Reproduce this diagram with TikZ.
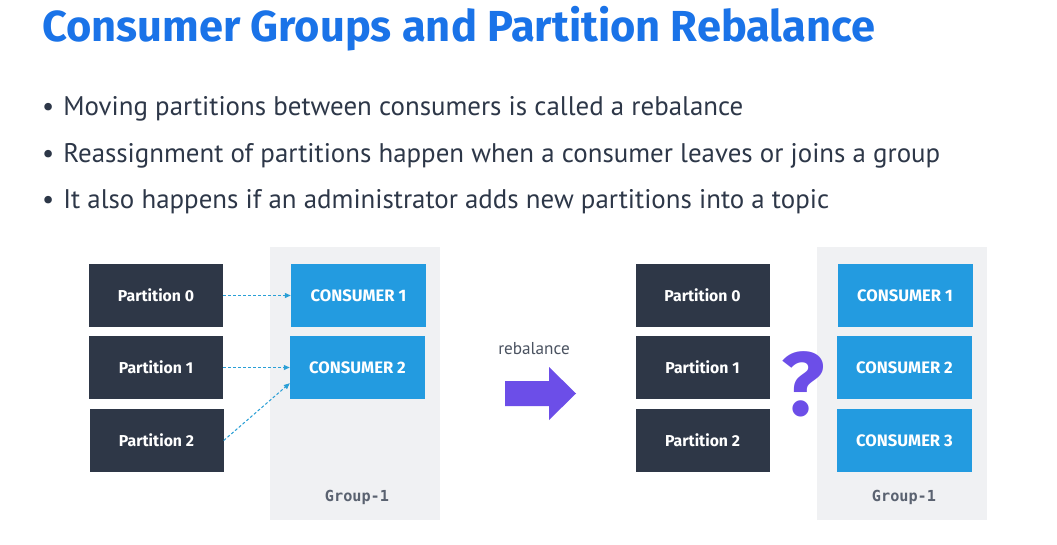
\documentclass[tikz,border=0pt]{standalone}
\usepackage{fontspec}
\setmainfont{Fira Sans}
\newfontfamily\titlefont{Fira Sans}
\newfontfamily\bodyfont{PT Sans}
\newfontfamily\boxfont{Fira Sans}
\newfontfamily\groupfont{DejaVu Sans Mono}
\usetikzlibrary{arrows.meta}
\definecolor{titleblue}{HTML}{1A73E8}
\definecolor{bodytext}{HTML}{2D3748}
\definecolor{partfill}{HTML}{2E3747}
\definecolor{consfill}{HTML}{239BE0}
\definecolor{groupbg}{HTML}{F0F1F3}
\definecolor{grouptext}{HTML}{5A6270}
\definecolor{linkblue}{HTML}{2A9FD6}
\definecolor{purple}{HTML}{6C4EE8}
\definecolor{labelgray}{HTML}{4A5260}
\tikzset{
  partbox/.style={fill=partfill, minimum width=134pt, minimum height=63pt, inner sep=0pt,
    text=white, font=\boxfont\bfseries\fontsize{15.8}{18}\selectfont},
  consbox/.style={fill=consfill, minimum width=135pt, minimum height=63pt, inner sep=0pt,
    text=white, font=\boxfont\bfseries\fontsize{16.6}{18}\selectfont},
  grouplabel/.style={text=grouptext, font=\groupfont\bfseries\fontsize{15.2}{17}\selectfont},
  bullet/.style={anchor=west, text=bodytext, font=\bodyfont\fontsize{26.9}{30}\selectfont, inner sep=0pt},
  link/.style={draw=linkblue, dashed, dash pattern=on 3pt off 2pt, line width=1pt,
    -{Triangle[length=6pt,width=5pt]}}
}
\begin{document}
\begin{tikzpicture}[x=1pt,y=-1pt]
\useasboundingbox (0,0) rectangle (1057,545);
\fill[white] (0,0) rectangle (1057,545);

% heading
\node[anchor=west, inner sep=0pt, text=titleblue, font=\titlefont\bfseries\fontsize{43.4}{47}\selectfont]
  (title) at (42,29) {Consumer Groups and Partition Rebalance};

% bullet list
\node[bullet] (b1) at (42,109) {\textbullet\hspace{9pt}Moving partitions between consumers is called a rebalance};
\node[bullet] (b2) at (42,156) {\textbullet\hspace{9pt}Reassignment of partitions happen when a consumer leaves or joins a group};
\node[bullet] (b3) at (42,202) {\textbullet\hspace{9pt}It also happens if an administrator adds new partitions into a topic};

% left side: before the rebalance
\fill[groupbg] (270,247) rectangle (440,520);
\node[grouplabel] (g1) at (357,497) {Group-1};
\node[partbox] (p0) at (156,295.5) {Partition 0};
\node[partbox] (p1) at (156,367.5) {Partition 1};
\node[partbox] (p2) at (156.5,440.5) {Partition 2};
\node[consbox] (c1) at (358.5,295.5) {CONSUMER 1};
\node[consbox] (c2) at (357.5,367.5) {CONSUMER 2};
\draw[link] (p0.east) -- (c1.west);
\draw[link] (p1.east) -- (c2.west);
\draw[link] (p2.east) -- ([yshift=16pt]c2.south west);

% rebalance arrow
\node[text=labelgray, font=\bodyfont\fontsize{17.2}{19}\selectfont] (rl) at (534,349) {rebalance};
\fill[purple] (505,381) -- (549,381) -- (549,367) -- (576,393.5) -- (549,420) -- (549,406) -- (505,406) -- cycle;

% right side: after the rebalance
\fill[groupbg] (817,247) rectangle (987,520);
\node[grouplabel] (g2) at (904,497) {Group-1};
\node[partbox] (q0) at (702.5,295.5) {Partition 0};
\node[partbox] (q1) at (702.5,367.5) {Partition 1};
\node[partbox] (q2) at (702.5,440.5) {Partition 2};
\node[consbox] (d1) at (905,295.5) {CONSUMER 1};
\node[consbox] (d2) at (904.5,367.5) {CONSUMER 2};
\node[consbox] (d3) at (904.5,440.5) {CONSUMER 3};
\node[text=purple, font=\titlefont\bfseries\fontsize{90}{90}\selectfont, inner sep=0pt] (qm) at (803,384) {?};
\end{tikzpicture}
\end{document}
